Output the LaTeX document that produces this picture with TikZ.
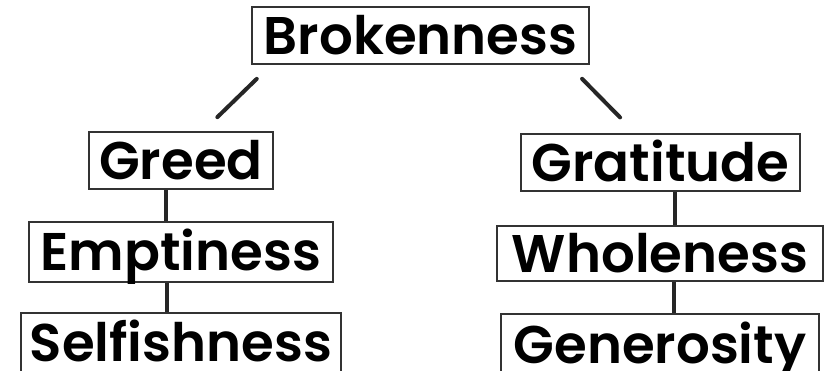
\documentclass[tikz,border=0pt]{standalone}
\usepackage{fontspec}
\setmainfont{Poppins SemiBold}
\usepackage{tikz}

\begin{document}
\begin{tikzpicture}[x=1pt, y=-1pt,
  word/.style={draw=black!80, line width=1.8pt, inner sep=0pt, text height=38pt, text depth=0pt, font=\fontsize{53}{53}\selectfont},
  link/.style={draw=black!85, line width=4pt},
  branch/.style={draw=black!85, line width=4pt, line cap=round}]
  \useasboundingbox (0, 0) rectangle (825, 371);
  \node[word, minimum width=337pt, minimum height=57pt] (broken) at (420.5, 35.5) {Brokenness};
  \node[word, minimum width=184pt, minimum height=57pt] (greed) at (181, 160.5) {Greed};
  \node[word, minimum width=304pt, minimum height=60pt] (empty) at (181, 252) {Emptiness};
  \node[word, minimum width=320pt, minimum height=60pt] (selfish) at (181, 343) {Selfishness};
  \node[word, minimum width=279pt, minimum height=57pt] (grat) at (660.5, 162.5) {Gratitude};
  \node[word, minimum width=326pt, minimum height=55pt] (whole) at (660, 253.5) {Wholeness};
  \node[word, minimum width=318pt, minimum height=60pt] (gener) at (660, 344) {Generosity};
  \draw[branch, shorten <=20pt, shorten >=20pt]
    ([xshift=20pt]broken.south west) -- ([xshift=22pt]greed.north);
  \draw[branch, shorten <=19.5pt, shorten >=22pt]
    ([xshift=-21.5pt]broken.south east) -- ([xshift=-25pt]grat.north);
  \draw[link]
    ([xshift=-15pt]greed.south) -- ([xshift=-15pt]greed.south |- empty.north)
    ([xshift=-14pt]empty.south) -- ([xshift=-14pt]empty.south |- selfish.north)
    ([xshift=14pt]grat.south) -- ([xshift=14pt]grat.south |- whole.north)
    ([xshift=14pt]whole.south) -- ([xshift=14pt]whole.south |- gener.north)
  ;
\end{tikzpicture}
\end{document}
